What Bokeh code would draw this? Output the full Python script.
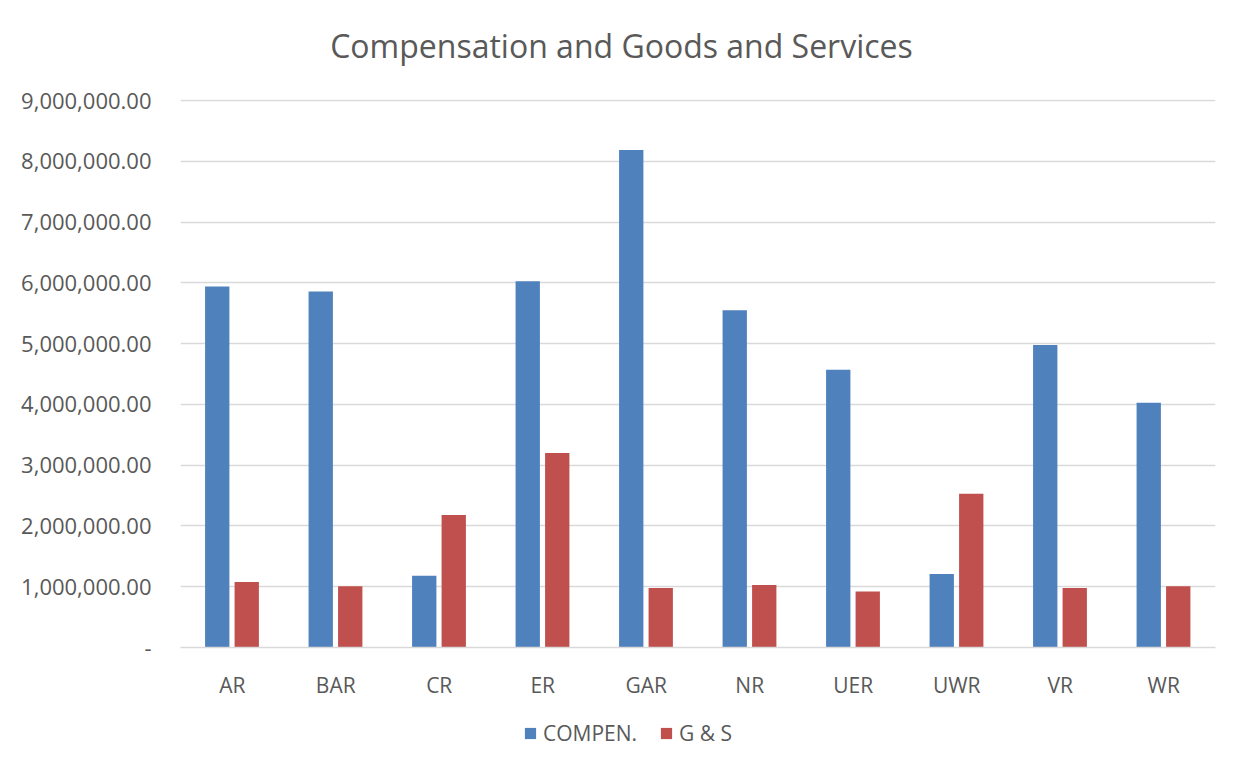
from bokeh.plotting import figure
from bokeh.layouts import column
from bokeh.core.properties import value
from bokeh.models import ColumnDataSource, FactorRange, Range1d, FixedTicker, CustomJSTickFormatter, Legend, LegendItem
from bokeh.transform import dodge
from bokeh.embed import file_html
from bokeh.resources import INLINE

title_text = ["Compensation and Goods and Services"]
categories = ["AR", "BAR", "CR", "ER", "GAR", "NR", "UER", "UWR", "VR", "WR"]
compen = [5940000, 5860000, 1180000, 6030000, 8190000, 5550000, 4570000, 1210000, 4980000, 4030000]
gs = [1080000, 1010000, 2180000, 3200000, 980000, 1030000, 920000, 2530000, 980000, 1010000]
y_ticks = [0, 1000000, 2000000, 3000000, 4000000, 5000000, 6000000, 7000000, 8000000, 9000000]
series_names = ["COMPEN.", "G & S"]
series_colors = ["#4F81BD", "#C0504D"]

FONT = "Open Sans"
TXT = "#595959"

# title strip (data units = page pixels)
tfig = figure(width=1235, height=80, x_range=Range1d(180, 1215), y_range=Range1d(80, 0),
              x_axis_type=None, y_axis_type=None, output_backend="svg", toolbar_location=None,
              min_border_left=180, min_border_right=20, min_border_top=0, min_border_bottom=0,
              outline_line_color=None)
tfig.grid.visible = False
tfig.text(x=[621], y=[45], text=title_text, text_align="center", text_baseline="middle",
          text_font=value(FONT), text_font_size="32px", text_color=TXT)

src = ColumnDataSource(dict(cat=categories, compen=compen, gs=gs))

main = figure(frame_width=1035, frame_height=548, x_range=FactorRange(*categories, range_padding=0),
              y_range=Range1d(0, 9020000), output_backend="svg", toolbar_location=None,
              min_border_left=180, min_border_right=20, min_border_top=19, min_border_bottom=60)

main.vbar(x=dodge("cat", -0.145, range=main.x_range), top="compen", width=0.235, source=src,
          fill_color=series_colors[0], line_color=None)
main.vbar(x=dodge("cat", 0.14, range=main.x_range), top="gs", width=0.235, source=src,
          fill_color=series_colors[1], line_color=None)

main.outline_line_color = None
main.xgrid.grid_line_color = None
main.ygrid.grid_line_color = "#D9D9D9"
main.ygrid.grid_line_width = 1.5

main.yaxis.ticker = FixedTicker(ticks=y_ticks)
main.yaxis.formatter = CustomJSTickFormatter(code="""
return tick == 0 ? '-' : tick.toLocaleString('en-US', {minimumFractionDigits: 2, maximumFractionDigits: 2});
""")
main.yaxis.axis_line_color = None
main.yaxis.major_tick_line_color = None
main.yaxis.minor_tick_line_color = None
main.yaxis.major_label_text_font = FONT
main.yaxis.major_label_text_font_size = "22px"
main.yaxis.major_label_text_color = TXT
main.yaxis.major_label_standoff = 23

main.xaxis.axis_line_color = "#D9D9D9"
main.xaxis.axis_line_width = 1.5
main.xaxis.major_tick_line_color = None
main.xaxis.minor_tick_line_color = None
main.xaxis.major_label_text_font = FONT
main.xaxis.major_label_text_font_size = "21px"
main.xaxis.major_label_text_color = TXT
main.xaxis.major_label_standoff = 17

# legend strip below the chart
leg = figure(width=1235, height=50, x_range=Range1d(0, 1), y_range=Range1d(0, 1),
             x_axis_type=None, y_axis_type=None, output_backend="svg", toolbar_location=None,
             min_border_left=180, min_border_right=20, min_border_top=0, min_border_bottom=0,
             outline_line_color=None)
leg.grid.visible = False
items = []
for name, col in zip(series_names, series_colors):
    r = leg.vbar(x=[-5], top=[-5], width=0.1, fill_color=col, line_color=None)
    items.append(LegendItem(label=name, renderers=[r]))
legend = Legend(items=items, orientation="horizontal", location=(343, 10), border_line_color=None,
                background_fill_alpha=0,
                glyph_width=14, glyph_height=14, label_text_font=FONT, label_text_font_size="21px",
                label_text_color=TXT, spacing=22, label_standoff=6, margin=0, padding=0)
leg.add_layout(legend, "center")

p = column(tfig, main, leg, spacing=0)

open("out.html", "w").write(file_html(p, INLINE))
